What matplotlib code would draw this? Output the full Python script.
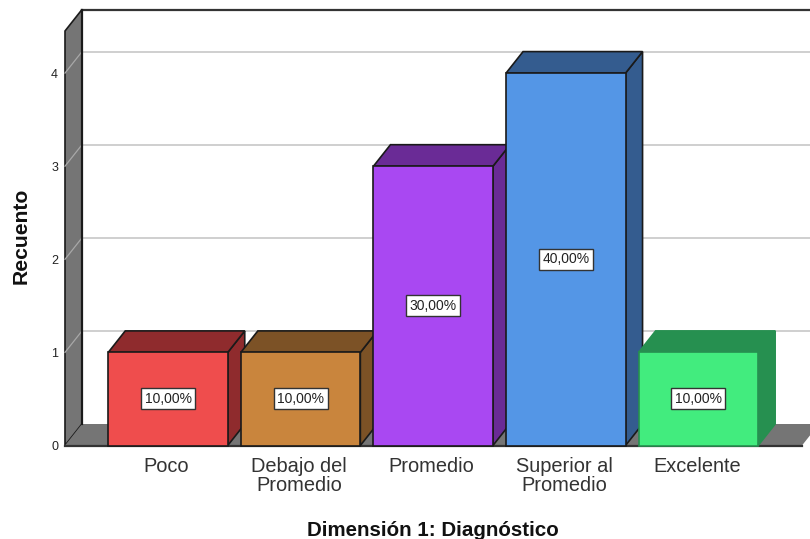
import matplotlib
matplotlib.use("Agg")
import matplotlib.pyplot as plt
from matplotlib.patches import Polygon
from matplotlib.transforms import ScaledTranslation

categorias = ["Poco", "Debajo del\nPromedio", "Promedio", "Superior al\nPromedio", "Excelente"]
recuento = [1, 1, 3, 4, 1]
porcentajes = ["10,00%", "10,00%", "30,00%", "40,00%", "10,00%"]
yticks = [0, 1, 2, 3, 4]

frente = ["#EF4D4D", "#C9853D", "#A948F2", "#5496E6", "#42EC7E"]
lado = ["#8F2B2D", "#7C5226", "#6A2B96", "#345C8F", "#269050"]
borde = ["#1a1a1a", "#1a1a1a", "#1a1a1a", "#1a1a1a", "#269050"]
W, H = 810, 539
plt.rcParams["font.family"] = ["Liberation Sans", "DejaVu Sans"]

fig = plt.figure(figsize=(W / 100, H / 100), dpi=100)
# front plane of the 3d box, in pixels: x 65-802, y 31-445.5
ax = fig.add_axes([65 / W, 1 - 445.5 / H, (802 - 65) / W, (445.5 - 31) / H])
ux, uy = 132.6, 93.1
x0 = (65 - 168) / ux
x1 = (802 - 168) / ux
y1 = (445.5 - 31) / uy
ax.set_xlim(x0, x1)
ax.set_ylim(0, y1)
for s in ax.spines.values():
    s.set_visible(False)
dx, dy = 17 / ux, 21.5 / uy   # depth of the box
bw = 119.5 / ux
osc = "#1a1a1a"
gris = "#757575"


def poly(pts, fc, ec=osc, lw=1.2, z=1):
    ax.add_patch(Polygon(pts, closed=True, fc=fc, ec=ec, lw=lw, zorder=z, clip_on=False, joinstyle="miter"))


# walls and floor
poly([(x0, 0), (x0 + dx, dy), (x0 + dx, y1 + dy), (x0, y1)], gris)
poly([(x0, 0), (x1, 0), (x1 + dx, dy), (x0 + dx, dy)], gris, ec="none", z=1)
ax.plot([x0, x1], [0, 0], color="#333333", lw=1.6, zorder=1.5, clip_on=False)
ax.plot([x0 + dx, x1 + dx], [y1 + dy, y1 + dy], color="#333333", lw=1.6, zorder=1.5, clip_on=False)
ax.plot([x0 + dx, x0 + dx], [dy, y1 + dy], color=osc, lw=1.6, zorder=1.5, clip_on=False)
# grid on back wall and slant on the left wall
for v in yticks[1:]:
    ax.plot([x0 + dx, x1 + dx], [v + dy, v + dy], color="#cfcfcf", lw=1.4, zorder=1.2, clip_on=False)
    ax.plot([x0, x0 + dx], [v, v + dy], color="#a8a8a8", lw=0.9, zorder=1.2, clip_on=False)

# bars, left to right so each front covers the previous side
for i, v in enumerate(recuento):
    z = 2 + i
    l, r = i - bw / 2, i + bw / 2
    poly([(r, 0), (r + dx, dy), (r + dx, v + dy), (r, v)], lado[i], ec=borde[i], z=z)
    poly([(l, v), (r, v), (r + dx, v + dy), (l + dx, v + dy)], lado[i], ec=borde[i], z=z)
    ax.bar(i, v, width=bw, color=frente[i], edgecolor=borde[i], lw=1.2, zorder=z + 0.1, clip_on=False)
    ax.text(i, v / 2, porcentajes[i], ha="center", va="center", fontsize=10, color="#222222", zorder=z + 0.2,
            bbox=dict(boxstyle="square,pad=0.25", fc="white", ec="#333333", lw=1.0))

ax.set_xticks(range(len(categorias)))
ax.set_xticklabels(categorias, fontsize=14.4, color="#333333", linespacing=1.05)
ax.set_yticks(yticks)
ax.set_yticklabels([str(t) for t in yticks], fontsize=9, color="#222222")
ax.tick_params(length=0)
ax.tick_params(axis="x", pad=8)
ax.tick_params(axis="y", pad=5)
shift = ScaledTranslation(-1.5 / 100, 0, fig.dpi_scale_trans)
for lab in ax.get_xticklabels():
    lab.set_transform(lab.get_transform() + shift)
fig.text(432.5 / W, 1 - 530.5 / H, "Dimensión 1: Diagnóstico", ha="center", va="center", fontsize=14.8, fontweight="bold", color="#111111")
fig.text(21.5 / W, 1 - 236 / H, "Recuento", ha="center", va="center", rotation=90, fontsize=15.2, fontweight="bold", color="#111111")
fig.savefig("out.png", dpi=100)
